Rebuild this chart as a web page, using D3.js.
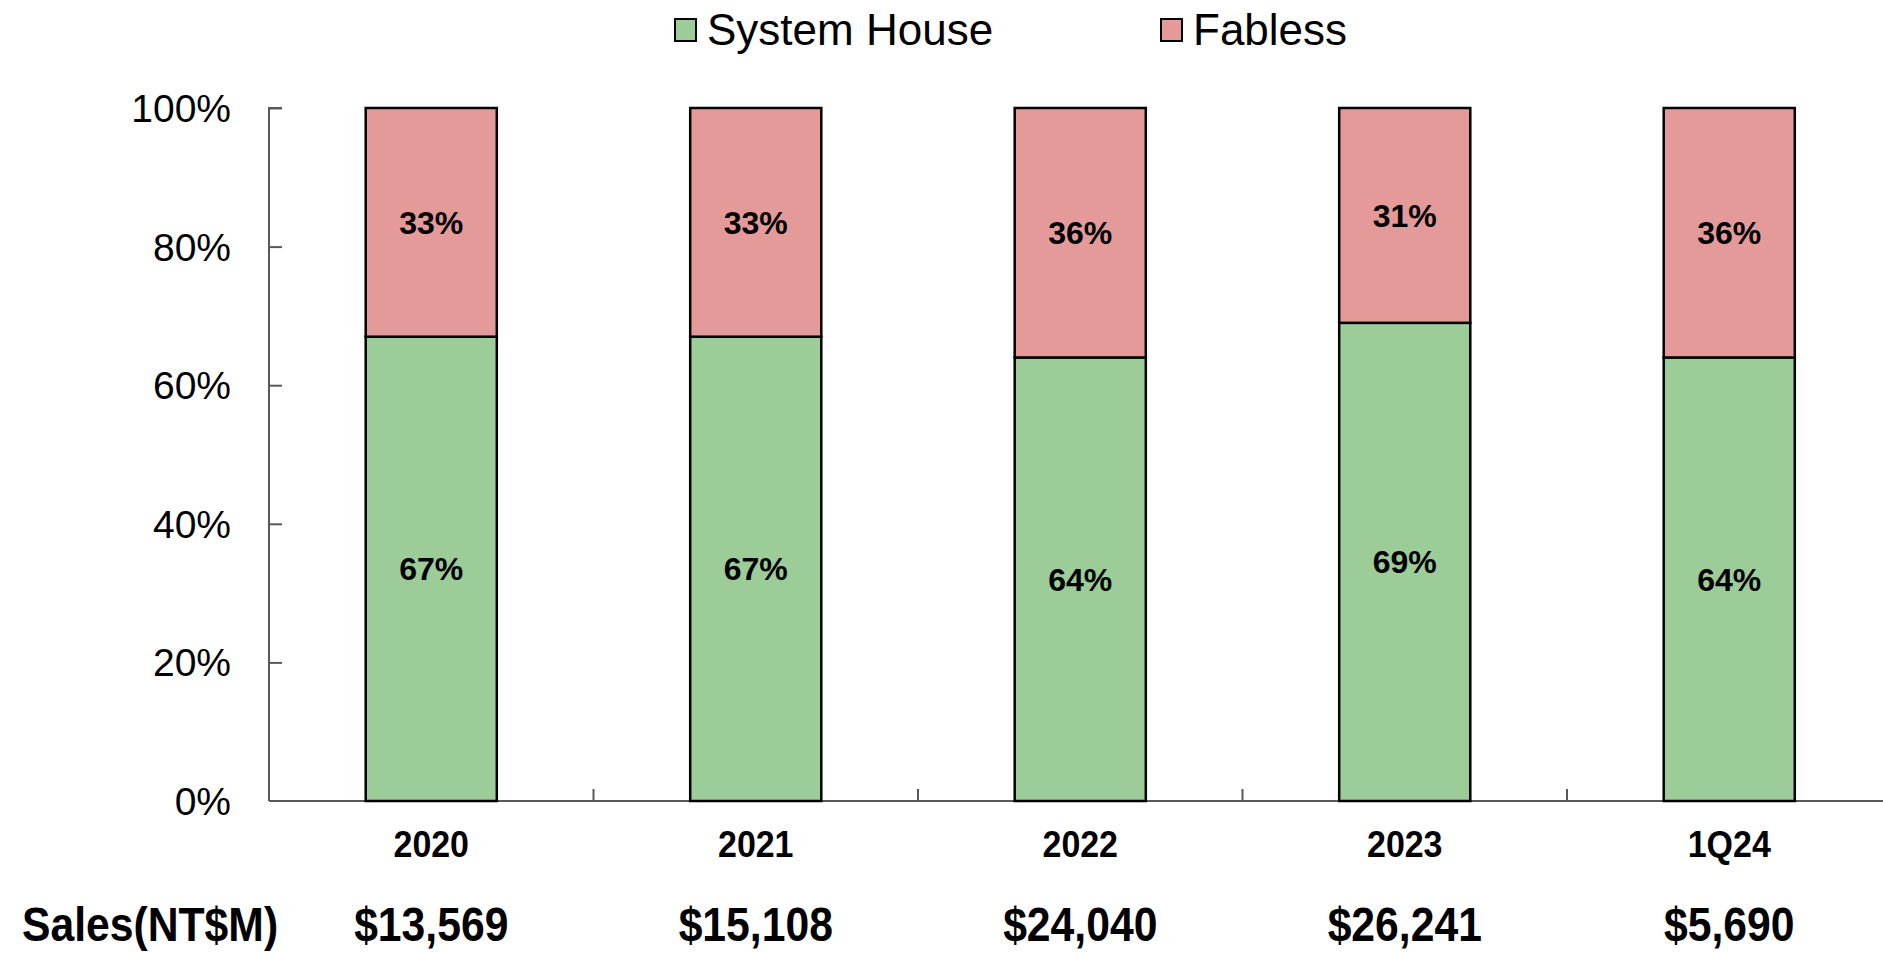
<!DOCTYPE html>
<html>
<head>
<meta charset="utf-8">
<script src="https://cdn.jsdelivr.net/npm/d3@7"></script>
<style>
  html, body { margin: 0; padding: 0; background: #ffffff; }
  svg { display: block; }
  text { font-family: "Liberation Sans", Arial, sans-serif; }
</style>
</head>
<body>
<svg id="chart" width="1883" height="953"></svg>
<script>
const categories = ["2020", "2021", "2022", "2023", "1Q24"];
const systemHouse = [67, 67, 64, 69, 64];
const fabless = [33, 33, 36, 31, 36];
const sales = ["$13,569", "$15,108", "$24,040", "$26,241", "$5,690"];
const seriesNames = ["System House", "Fabless"];
const seriesColors = ["#9ccc98", "#e59a9a"];
const yTicks = [0, 20, 40, 60, 80, 100];
const salesLabel = "Sales(NT$M)";

(function () {
const svg = d3.select("#chart");
const plotLeft = 269, plotBottom = 801, plotTop = 108;
const step = 324.5;

const x = d3.scaleBand()
  .domain(categories)
  .range([plotLeft, plotLeft + step * categories.length])
  .paddingInner(0.596)
  .paddingOuter(0.298);

const y = d3.scaleLinear().domain([0, 100]).range([plotBottom, plotTop]);

const rows = categories.map((c, i) => ({ cat: c, sys: systemHouse[i], fab: fabless[i] }));
const layers = d3.stack().keys(["sys", "fab"])(rows);

// Y axis
const yAxis = d3.axisRight(y).tickValues(yTicks).tickSize(13).tickFormat(() => "");
const yg = svg.append("g").attr("transform", `translate(${plotLeft},0)`).call(yAxis);
yg.select(".domain").attr("stroke", "#595959").attr("stroke-width", 2).attr("d", `M13,${plotTop}H0V${plotBottom}`);
yg.selectAll(".tick line").attr("stroke", "#595959").attr("stroke-width", 2);
yg.selectAll(".tick").filter(d => d === 0).select("line").remove();

svg.append("g").selectAll("text").data(yTicks).join("text")
  .attr("x", plotLeft - 38)
  .attr("y", d => y(d))
  .attr("dy", "0.36em")
  .attr("text-anchor", "end")
  .attr("font-size", 39)
  .attr("fill", "#000")
  .text(d => d + "%");

// X axis line and category separators
svg.append("line")
  .attr("x1", plotLeft).attr("x2", plotLeft + step * categories.length)
  .attr("y1", plotBottom).attr("y2", plotBottom)
  .attr("stroke", "#595959").attr("stroke-width", 2);

const seps = categories.slice(0, -1).map(c => x(c) + x.bandwidth() + (x.step() - x.bandwidth()) / 2);
svg.append("g").selectAll("line").data(seps).join("line")
  .attr("x1", d => d).attr("x2", d => d)
  .attr("y1", plotBottom).attr("y2", plotBottom - 12)
  .attr("stroke", "#595959").attr("stroke-width", 2);

// Bars
layers.forEach((layer, li) => {
  svg.append("g").selectAll("rect").data(layer).join("rect")
    .attr("x", d => x(d.data.cat))
    .attr("width", x.bandwidth())
    .attr("y", d => y(d[1]))
    .attr("height", d => y(d[0]) - y(d[1]))
    .attr("fill", seriesColors[li])
    .attr("stroke", "#000")
    .attr("stroke-width", 2.5);
});

// Bar value labels
layers.forEach((layer, li) => {
  svg.append("g").selectAll("text").data(layer).join("text")
    .attr("x", d => x(d.data.cat) + x.bandwidth() / 2)
    .attr("y", d => y((d[0] + d[1]) / 2))
    .attr("dy", "0.36em")
    .attr("text-anchor", "middle")
    .attr("font-size", 32)
    .attr("font-weight", "bold")
    .attr("fill", "#000")
    .text(d => (d[1] - d[0]) + "%");
});

// Category labels
svg.append("g").selectAll("text").data(categories).join("text")
  .attr("transform", d => `translate(${x(d) + x.bandwidth() / 2},857) scale(0.97,1.05)`)
  .attr("text-anchor", "middle")
  .attr("font-size", 35)
  .attr("font-weight", "bold")
  .attr("fill", "#000")
  .text(d => d);

// Sales row
const salesY = 941;
svg.append("text")
  .attr("transform", `translate(22,${salesY}) scale(0.97,1.08)`)
  .attr("font-size", 44).attr("font-weight", "bold").attr("fill", "#000")
  .text(salesLabel);
svg.append("g").selectAll("text").data(categories).join("text")
  .attr("transform", d => `translate(${x(d) + x.bandwidth() / 2},${salesY}) scale(0.97,1.08)`)
  .attr("text-anchor", "middle")
  .attr("font-size", 44)
  .attr("font-weight", "bold")
  .attr("fill", "#000")
  .text((d, i) => sales[i]);

// Legend
const legendX = [675, 1161];
const lg = svg.append("g").selectAll("g").data(seriesNames).join("g")
  .attr("transform", (d, i) => `translate(${legendX[i]},0)`);
lg.append("rect")
  .attr("x", 0).attr("y", 19).attr("width", 21).attr("height", 22)
  .attr("fill", (d, i) => seriesColors[i])
  .attr("stroke", "#000").attr("stroke-width", 2);
lg.append("text")
  .attr("x", 32).attr("y", 45)
  .attr("font-size", 44).attr("fill", "#000")
  .text(d => d);
})();
</script>
</body>
</html>
